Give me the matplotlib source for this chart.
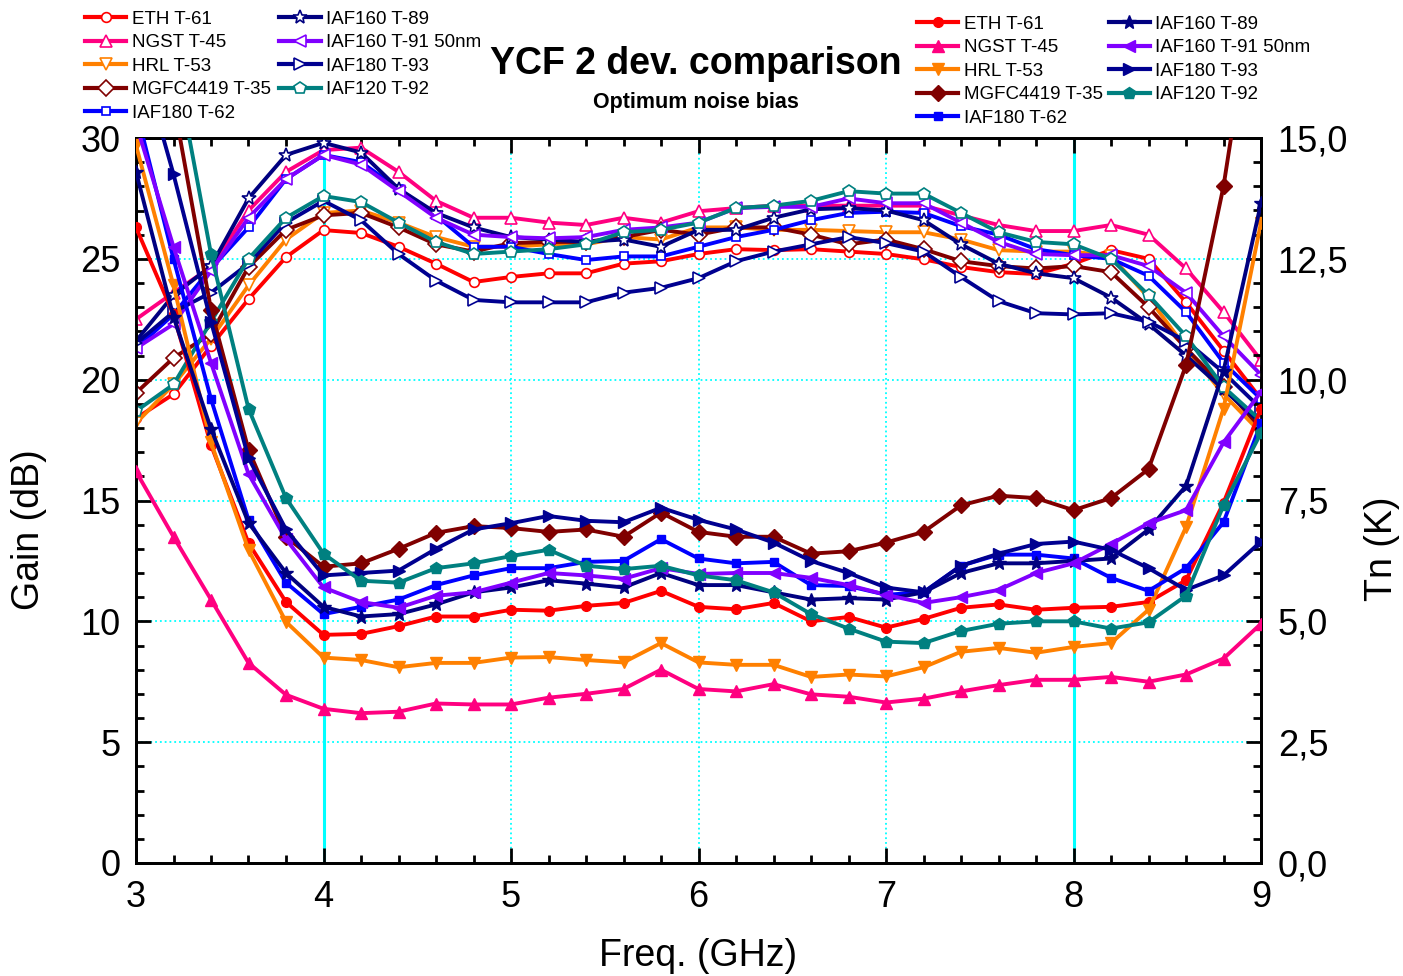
import numpy as np
import matplotlib.pyplot as plt
from matplotlib.ticker import MultipleLocator, FuncFormatter
from matplotlib.lines import Line2D

plt.rcParams['font.family'] = ['Liberation Sans', 'DejaVu Sans']

#%% data
freq = [3.0, 3.2, 3.4, 3.6, 3.8, 4.0, 4.2, 4.4, 4.6, 4.8, 5.0, 5.2, 5.4, 5.6, 5.8,
        6.0, 6.2, 6.4, 6.6, 6.8, 7.0, 7.2, 7.4, 7.6, 7.8, 8.0, 8.2, 8.4, 8.6, 8.8, 9.0]

names = ['ETH T-61', 'NGST T-45', 'HRL T-53', 'MGFC4419 T-35', 'IAF180 T-62',
         'IAF160 T-89', 'IAF160 T-91 50nm', 'IAF180 T-93', 'IAF120 T-92']

# gain (dB), left axis
gain_eth = [18.4, 19.4, 21.4, 23.33, 25.07, 26.19, 26.07, 25.5, 24.8, 24.04, 24.25, 24.4, 24.4, 24.8, 24.9,
            25.2, 25.4, 25.36, 25.4, 25.3, 25.2, 24.98, 24.66, 24.45, 24.37, 24.8, 25.36, 25.0, 23.2, 21.2, 19.2]
gain_ngst = [22.5, 23.6, 24.66, 27.0, 28.6, 29.5, 29.6, 28.6, 27.4, 26.7, 26.7, 26.5, 26.4, 26.7, 26.5,
             26.97, 27.1, 27.2, 27.2, 27.2, 27.2, 27.2, 26.8, 26.4, 26.15, 26.15, 26.4, 26.0, 24.6, 22.8, 20.8]
gain_hrl = [18.2, 19.8, 21.7, 23.9, 25.8, 26.9, 27.0, 26.5, 25.9, 25.5, 25.5, 25.6, 25.6, 25.9, 25.8,
            26.3, 26.3, 26.2, 26.2, 26.15, 26.1, 26.1, 25.8, 25.36, 25.3, 25.3, 25.1, 23.4, 21.3, 19.4, 17.8]
gain_mgfc = [19.45, 20.9, 21.9, 24.66, 26.2, 26.8, 26.9, 26.3, 25.6, 25.3, 25.65, 25.7, 25.7, 25.9, 26.2,
             26.0, 26.3, 26.3, 26.0, 25.6, 25.8, 25.4, 24.9, 24.7, 24.6, 24.7, 24.45, 23.0, 21.3, 19.7, 18.0]
gain_t62 = [21.3, 22.7, 24.6, 26.3, 28.3, 29.3, 29.0, 27.9, 26.8, 25.5, 25.5, 25.2, 24.95, 25.1, 25.1,
            25.5, 25.9, 26.2, 26.6, 26.9, 26.95, 26.9, 26.35, 26.0, 25.4, 25.15, 25.0, 24.3, 22.8, 20.7, 19.2]
gain_t89 = [21.6, 23.5, 24.7, 27.5, 29.3, 29.8, 29.4, 27.9, 26.9, 26.3, 25.9, 25.8, 25.7, 25.8, 25.5,
            26.2, 26.2, 26.7, 27.05, 27.1, 27.0, 26.6, 25.6, 24.8, 24.4, 24.2, 23.4, 22.3, 21.0, 19.6, 18.2]
gain_t91 = [21.3, 22.3, 24.5, 26.7, 28.3, 29.3, 28.9, 27.8, 26.7, 26.0, 25.9, 25.85, 25.9, 26.2, 26.3,
            26.5, 27.1, 27.15, 27.15, 27.5, 27.3, 27.3, 26.5, 25.7, 25.2, 25.15, 25.15, 24.7, 23.6, 21.8, 20.2]
gain_t93 = [21.5, 22.8, 23.6, 24.8, 26.5, 27.4, 26.6, 25.2, 24.1, 23.3, 23.2, 23.2, 23.2, 23.6, 23.8,
            24.2, 24.9, 25.3, 25.6, 25.9, 25.65, 25.3, 24.25, 23.25, 22.75, 22.7, 22.75, 22.4, 21.6, 20.3, 18.8]
gain_t92 = [18.7, 19.8, 22.4, 25.0, 26.7, 27.6, 27.35, 26.5, 25.7, 25.2, 25.3, 25.4, 25.6, 26.1, 26.2,
            26.5, 27.1, 27.2, 27.4, 27.8, 27.7, 27.7, 26.9, 26.1, 25.7, 25.6, 25.0, 23.5, 21.8, 19.7, 18.3]

# noise temperature (K), right axis
tn_eth = [13.15, 11.35, 8.65, 6.62, 5.4, 4.72, 4.74, 4.9, 5.1, 5.1, 5.24, 5.22, 5.32, 5.38, 5.63,
          5.3, 5.25, 5.38, 5.0, 5.09, 4.87, 5.05, 5.28, 5.35, 5.24, 5.28, 5.3, 5.4, 5.85, 7.45, 9.4]
tn_ngst = [8.1, 6.75, 5.45, 4.14, 3.48, 3.19, 3.1, 3.13, 3.3, 3.28, 3.28, 3.42, 3.5, 3.6, 4.0,
           3.6, 3.55, 3.7, 3.49, 3.44, 3.32, 3.4, 3.55, 3.68, 3.79, 3.79, 3.85, 3.75, 3.9, 4.23, 4.95]
tn_hrl = [14.85, 11.95, 8.7, 6.48, 4.99, 4.25, 4.2, 4.05, 4.14, 4.14, 4.25, 4.26, 4.2, 4.15, 4.55,
          4.15, 4.1, 4.1, 3.85, 3.9, 3.86, 4.05, 4.37, 4.45, 4.35, 4.47, 4.55, 5.24, 6.95, 9.4, 13.25]
tn_mgfc = [18.0, 15.75, 11.45, 8.55, 6.75, 6.13, 6.2, 6.5, 6.83, 6.97, 6.93, 6.85, 6.9, 6.75, 7.25,
           6.85, 6.75, 6.75, 6.4, 6.45, 6.63, 6.85, 7.4, 7.6, 7.55, 7.3, 7.55, 8.15, 10.3, 14.0, 19.0]
tn_t62 = [15.6, 12.5, 9.6, 7.1, 5.8, 5.15, 5.3, 5.45, 5.75, 5.95, 6.1, 6.1, 6.23, 6.25, 6.7,
          6.3, 6.2, 6.23, 5.75, 5.73, 5.55, 5.6, 6.15, 6.38, 6.38, 6.3, 5.9, 5.63, 6.1, 7.05, 9.1]
tn_t89 = [14.3, 11.3, 8.98, 7.04, 6.0, 5.3, 5.1, 5.15, 5.35, 5.6, 5.7, 5.85, 5.78, 5.7, 6.0,
          5.75, 5.75, 5.6, 5.45, 5.48, 5.45, 5.6, 6.0, 6.2, 6.2, 6.25, 6.3, 6.9, 7.8, 10.18, 13.65]
tn_t91 = [15.3, 12.75, 10.35, 8.05, 6.7, 5.7, 5.4, 5.28, 5.53, 5.6, 5.8, 6.0, 5.95, 5.88, 6.1,
          5.98, 6.0, 6.0, 5.9, 5.75, 5.55, 5.38, 5.5, 5.65, 6.0, 6.2, 6.6, 7.03, 7.3, 8.7, 9.75]
tn_t93 = [17.0, 14.25, 11.2, 8.38, 6.9, 5.95, 6.0, 6.05, 6.5, 6.9, 7.03, 7.18, 7.08, 7.05, 7.35,
          7.1, 6.9, 6.63, 6.25, 6.0, 5.7, 5.6, 6.15, 6.4, 6.6, 6.65, 6.48, 6.1, 5.65, 5.95, 6.65]
tn_t92 = [20.0, 16.75, 12.6, 9.4, 7.55, 6.4, 5.84, 5.8, 6.1, 6.2, 6.35, 6.48, 6.15, 6.08, 6.15,
          5.95, 5.85, 5.6, 5.15, 4.85, 4.58, 4.55, 4.8, 4.95, 5.0, 5.0, 4.85, 4.98, 5.53, 7.4, 8.9]

gains = [gain_eth, gain_ngst, gain_hrl, gain_mgfc, gain_t62, gain_t89, gain_t91, gain_t93, gain_t92]
tns = [tn_eth, tn_ngst, tn_hrl, tn_mgfc, tn_t62, tn_t89, tn_t91, tn_t93, tn_t92]

colors = ['#FF0000', '#FF0080', '#FF8000', '#800000', '#0000FF',
          '#000080', '#8000FF', '#000090', '#008080']
markers = ['o', '^', 'v', 'D', 's', '*', '<', '>', 'p']
msizes = [7, 9, 9, 8, 6, 10, 9, 9, 9]

#%% figure
fig = plt.figure(figsize=(14.03, 9.76), dpi=100)
ax = fig.add_axes([136/1403, 113/976, 1125/1403, 725/976])
ax2 = ax.twinx()

cyan = '#00FFFF'
ax.grid(True, which='major', color=cyan, linestyle=':', linewidth=1.3)
ax.axvline(4, color=cyan, lw=2.2, zorder=1)
ax.axvline(8, color=cyan, lw=2.2, zorder=1)

gain_handles = []
tn_handles = []
for i in range(len(names)):
    ax.plot(freq, gains[i], color=colors[i], lw=2.8, marker=markers[i], ms=msizes[i],
            mfc='white', mec=colors[i], mew=1.2, zorder=3)
    ax2.plot(freq, tns[i], color=colors[i], lw=2.8, marker=markers[i], ms=msizes[i],
             mfc=colors[i], mec=colors[i], zorder=3)
    gain_handles.append(Line2D([], [], color=colors[i], lw=3, marker=markers[i], ms=msizes[i],
                               mfc='white', mec=colors[i], mew=1.2))
    tn_handles.append(Line2D([], [], color=colors[i], lw=3, marker=markers[i], ms=msizes[i],
                             mfc=colors[i], mec=colors[i]))

ax.set_xlim(3, 9)
ax.set_ylim(0, 30)
ax2.set_ylim(0, 15)

ax.xaxis.set_major_locator(MultipleLocator(1))
ax.xaxis.set_minor_locator(MultipleLocator(0.2))
ax.yaxis.set_major_locator(MultipleLocator(5))
ax.yaxis.set_minor_locator(MultipleLocator(1))
ax2.yaxis.set_major_locator(MultipleLocator(2.5))
ax2.yaxis.set_minor_locator(MultipleLocator(0.5))
ax2.yaxis.set_major_formatter(FuncFormatter(lambda v, p: ('%.1f' % v).replace('.', ',')))

ax.tick_params(axis='both', which='both', direction='in', top=True, right=False, width=2, labelsize=26)
ax.tick_params(axis='both', which='major', length=11)
ax.tick_params(axis='both', which='minor', length=6)
ax.tick_params(axis='x', pad=12)
ax.tick_params(axis='y', pad=11)
ax2.tick_params(axis='y', which='both', direction='in', width=2, labelsize=26, pad=12)
ax2.tick_params(axis='y', which='major', length=11)
ax2.tick_params(axis='y', which='minor', length=6)
for a in (ax, ax2):
    for s in a.spines.values():
        s.set_linewidth(2)

ax.set_xlabel('Freq. (GHz)', fontsize=27)
ax.xaxis.set_label_coords(0.4996, -0.104)
ax.set_ylabel('Gain (dB)', fontsize=27)
ax.yaxis.set_label_coords(-0.079, 0.46)
ax2.set_ylabel('Tn (K)', fontsize=27)
ax2.yaxis.set_label_coords(1.092, 0.434)

fig.text(0.496, 0.934, 'YCF 2 dev. comparison', ha='center', va='center', fontsize=27, weight='bold')
fig.text(0.496, 0.895, 'Optimum noise bias', ha='center', va='center', fontsize=15.5, weight='bold')

fig.legend(gain_handles, names, loc='upper left', bbox_to_anchor=(0.058, 0.993), ncol=2,
           frameon=False, fontsize=13.5, handlelength=2.2, handletextpad=0.3, columnspacing=0.45,
           labelspacing=0.34, borderaxespad=0, borderpad=0.2)
fig.legend(tn_handles, names, loc='upper left', bbox_to_anchor=(0.651, 0.988), ncol=2,
           frameon=False, fontsize=13.5, handlelength=2.2, handletextpad=0.3, columnspacing=0.3,
           labelspacing=0.34, borderaxespad=0, borderpad=0.2)

fig.savefig('out.png', dpi=100)
